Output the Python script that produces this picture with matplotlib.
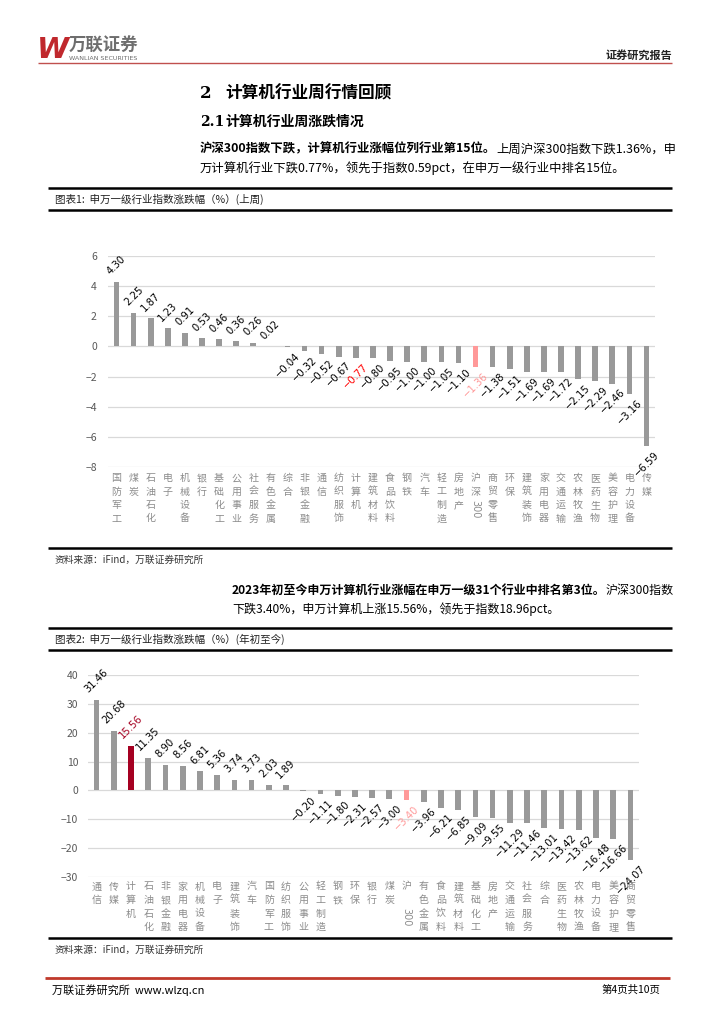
import re
import matplotlib
matplotlib.use('Agg')
import matplotlib.pyplot as plt
from matplotlib.lines import Line2D

W, H = 724, 1024
FAM = ['Noto Sans CJK SC', 'DejaVu Sans']
plt.rcParams['font.family'] = FAM
plt.rcParams['axes.unicode_minus'] = True

# ---------------- data ----------------
weekly_categories = ['国防军工', '煤炭', '石油石化', '电子', '机械设备', '银行', '基础化工', '公用事业',
                     '社会服务', '有色金属', '综合', '非银金融', '通信', '纺织服饰', '计算机', '建筑材料',
                     '食品饮料', '钢铁', '汽车', '轻工制造', '房地产', '沪深300', '商贸零售', '环保',
                     '建筑装饰', '家用电器', '交通运输', '农林牧渔', '医药生物', '美容护理', '电力设备', '传媒']
weekly_values = [4.30, 2.25, 1.87, 1.23, 0.91, 0.53, 0.46, 0.36, 0.26, 0.02, -0.04, -0.32, -0.52, -0.67,
                 -0.77, -0.80, -0.95, -1.00, -1.00, -1.05, -1.10, -1.36, -1.38, -1.51, -1.69, -1.69, -1.72,
                 -2.15, -2.29, -2.46, -3.16, -6.59]
weekly_ticks = [-8, -6, -4, -2, 0, 2, 4, 6]

# (the reference's second chart prints the index label as "沪", a blank row, then "300")
ytd_categories = ['通信', '传媒', '计算机', '石油石化', '非银金融', '家用电器', '机械设备', '电子',
                  '建筑装饰', '汽车', '国防军工', '纺织服饰', '公用事业', '轻工制造', '钢铁', '环保',
                  '银行', '煤炭', '沪\u3000300', '有色金属', '食品饮料', '建筑材料', '基础化工', '房地产',
                  '交通运输', '社会服务', '综合', '医药生物', '农林牧渔', '电力设备', '美容护理', '商贸零售']
ytd_values = [31.46, 20.68, 15.56, 11.35, 8.90, 8.56, 6.81, 5.36, 3.74, 3.73, 2.03, 1.89, -0.20, -1.11,
              -1.80, -2.31, -2.57, -3.00, -3.40, -3.96, -6.21, -6.85, -9.09, -9.55, -11.29, -11.46,
              -13.01, -13.42, -13.62, -16.48, -16.66, -24.07]
ytd_ticks = [-30, -20, -10, 0, 10, 20, 30, 40]

GRAY_BAR = '#999999'
PINK = '#FF9999'
DARK_RED = '#A50021'

fig = plt.figure(figsize=(W / 100, H / 100), dpi=100)
renderer = fig.canvas.get_renderer()


def fx(x):
    return x / W


def fy(y):
    return 1 - y / H


def hline(y, x0, x1, lw, color):
    fig.add_artist(Line2D([fx(x0), fx(x1)], [fy(y), fy(y)], transform=fig.transFigure,
                          lw=lw, color=color, solid_capstyle='butt'))


def txt(x, y, s, size, **kw):
    kw.setdefault('va', 'center')
    return fig.text(fx(x), fy(y), s, fontsize=size, **kw)


def mixed_line(x, y, parts, size):
    for s, weight in parts:
        t = txt(x, y, s, size, fontweight=weight, color='black')
        bb = t.get_window_extent(renderer)
        x = bb.x1


def axes_px(l, t, r, b):
    return fig.add_axes([l / W, 1 - b / H, (r - l) / W, (b - t) / H])


def draw_chart(ax, cats, vals, ticks, bar_hl, label_hl, cat_off, pad):
    n = len(cats)
    colors = [bar_hl.get(c, GRAY_BAR) for c in cats]
    ax.bar(range(n), vals, width=0.33, color=colors, zorder=3)
    ax.set_xlim(-0.5, n - 0.5)
    ax.set_ylim(ticks[0], ticks[-1])
    ax.set_yticks(ticks)
    ax.grid(axis='y', color='#D9D9D9', lw=0.9, zorder=0)
    ax.set_axisbelow(True)
    for s in ax.spines.values():
        s.set_visible(False)
    ax.tick_params(axis='y', length=0, labelsize=7.5, labelcolor='#595959', pad=pad)
    ax.set_xticks([])
    for i, (c, v) in enumerate(zip(cats, vals)):
        col = label_hl.get(c, 'black')
        if v >= 0:
            ax.annotate(f'{v:.2f}', xy=(i, v), xytext=(0, 3.5), textcoords='offset points',
                        ha='center', va='bottom', rotation=45, fontsize=7.2, color=col,
                        family=['DejaVu Sans'])
        else:
            ax.annotate(f'{v:.2f}'.replace('-', '\u2212'), xy=(i, v), xytext=(0, -2.5),
                        textcoords='offset points', ha='center', va='top', rotation=45,
                        fontsize=7.2, color=col, family=['DejaVu Sans'])
        toks = re.findall(r'\d+|.', c)
        for k, tk in enumerate(toks):
            off = -(cat_off + k * 13.5) * 0.72
            if tk.isdigit():
                ax.annotate(tk, xy=(i, 0), xycoords=('data', 'axes fraction'),
                            xytext=(0, off), textcoords='offset points', ha='center', va='top',
                            rotation=-90, fontsize=7, color='#8C8C8C', family=['DejaVu Sans'])
            else:
                ax.annotate(tk, xy=(i, 0), xycoords=('data', 'axes fraction'),
                            xytext=(0, off), textcoords='offset points', ha='center', va='top',
                            fontsize=7.2, color='#8C8C8C')


# ---------------- header ----------------
txt(37, 50, 'W', 21, color='#C0282D', fontweight='bold', style='italic', family=['DejaVu Sans'])
txt(69, 46, '万联证券', 12.5, color='#6E6E6E', fontweight='bold')
txt(69, 59, 'WANLIAN SECURITIES', 4.6, color='#6E6E6E', family=['DejaVu Sans'])
txt(672, 55, '证券研究报告', 8, ha='right', fontweight='bold', color='#222222')
hline(63, 38, 672, 1.0, '#C0504D')

# ---------------- section text ----------------
txt(200, 93, '2', 12, fontweight='bold', family=['DejaVu Serif'])
txt(225, 93, '计算机行业周行情回顾', 12, fontweight='bold')
txt(200, 122, '2.1', 10, fontweight='bold', family=['DejaVu Serif'])
txt(225, 122, '计算机行业周涨跌情况', 10, fontweight='bold')
mixed_line(200, 149, [('沪深300指数下跌，计算机行业涨幅位列行业第15位。', 'bold'),
                      ('上周沪深300指数下跌1.36%，申', 'normal')], 8.9)
mixed_line(200, 168, [('万计算机行业下跌0.77%，领先于指数0.59pct，在申万一级行业中排名15位。', 'normal')], 8.9)

# ---------------- chart 1 ----------------
hline(188, 48, 672, 1.8, 'black')
txt(55, 199, '图表1:  申万一级行业指数涨跌幅（%）(上周)', 7.6, color='#222222')
hline(210, 48, 672, 1.8, 'black')

ax1 = axes_px(108, 256, 655, 467)
draw_chart(ax1, weekly_categories, weekly_values, weekly_ticks,
           bar_hl={'沪深300': PINK}, label_hl={'计算机': '#FF0000', '沪深300': PINK},
           cat_off=6, pad=8)

hline(548, 48, 672, 1.8, 'black')
txt(55, 560, '资料来源：iFind，万联证券研究所', 7, style='italic', color='#333333')

# ---------------- text between ----------------
mixed_line(232, 590, [('2023年初至今申万计算机行业涨幅在申万一级31个行业中排名第3位。', 'bold'),
                      ('沪深300指数', 'normal')], 8.65)
mixed_line(232, 609, [('下跌3.40%，申万计算机上涨15.56%，领先于指数18.96pct。', 'normal')], 8.65)

# ---------------- chart 2 ----------------
hline(628, 48, 672, 1.8, 'black')
txt(55, 639, '图表2:  申万一级行业指数涨跌幅（%）(年初至今)', 7.6, color='#222222')
hline(650, 48, 672, 1.8, 'black')

ax2 = axes_px(88, 675, 639, 877)
draw_chart(ax2, ytd_categories, ytd_values, ytd_ticks,
           bar_hl={'计算机': DARK_RED, '沪\u3000300': PINK},
           label_hl={'计算机': DARK_RED, '沪\u3000300': PINK},
           cat_off=4.5, pad=7)

hline(938, 48, 672, 1.8, 'black')
txt(55, 950, '资料来源：iFind，万联证券研究所', 7, style='italic', color='#333333')

# ---------------- footer ----------------
hline(978, 45, 670, 2.0, '#C0392B')
txt(52, 990, '万联证券研究所  www.wlzq.cn', 8, color='black')
txt(660, 990, '第4页共10页', 7.5, ha='right', color='black')

fig.savefig('out.png', dpi=100)
